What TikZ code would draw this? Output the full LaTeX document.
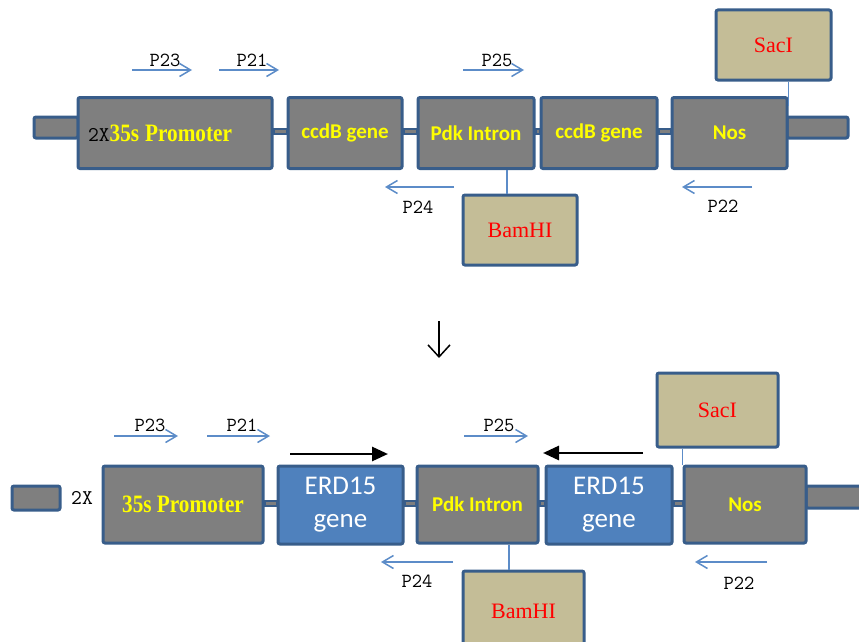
\documentclass[tikz,border=0pt]{standalone}
\usepackage{fontspec}
\setmainfont{Liberation Serif}
\newfontfamily\genefont{Carlito}
\usetikzlibrary{arrows.meta}
\definecolor{boxgray}{RGB}{127,127,127}
\definecolor{edgeblue}{RGB}{56,93,138}
\definecolor{sitetan}{RGB}{196,189,151}
\definecolor{erdblue}{RGB}{79,129,189}
\definecolor{primerblue}{RGB}{92,140,200}
\definecolor{geneyellow}{RGB}{255,255,0}
\newcommand{\narrow}[1]{\scalebox{0.85}[1]{#1}}

\begin{document}
\begin{tikzpicture}[
  x=1pt, y=-1pt,
  every node/.style={inner sep=0pt},
  part/.style={draw=edgeblue, line width=3pt, rounded corners=2pt, fill=boxgray,
    text=geneyellow, font=\genefont\bfseries\fontsize{21}{24}\selectfont},
  toprow/.style={part, minimum height=71pt},
  botrow/.style={part, minimum height=77pt},
  erd/.style={part, fill=erdblue, text=white, align=center, minimum height=78pt,
    font=\genefont\fontsize{27}{33}\selectfont},
  stub/.style={draw=edgeblue, line width=3pt, rounded corners=2pt, fill=boxgray},
  link/.style={draw=edgeblue, line width=2pt, fill=boxgray},
  site/.style={draw=edgeblue, line width=3pt, rounded corners=2pt, fill=sitetan,
    text=red, font=\fontsize{22}{26}\selectfont},
  cut/.style={draw=primerblue, line width=1.3pt},
  primer/.style={draw=primerblue, line width=1.5pt, -{Straight Barb[length=11pt,width=13pt]}},
  plabel/.style={font=\ttfamily\fontsize{20}{22}\selectfont},
  sense/.style={line width=2.8pt, -{Triangle[length=16pt,width=14pt]}}
]
  \useasboundingbox (0,0) rectangle (859,642);
  \clip (0,0) rectangle (859,642);

  \node[stub, minimum width=44pt, minimum height=21pt] (ls1) at (56,127.5) {};
  \node[stub, minimum width=61pt, minimum height=21pt] (rs1) at (817.5,127.5) {};
  \node[toprow, text width=174pt, inner xsep=10pt, align=left] (prom1) at (175,133)
    {\ttfamily\mdseries\fontsize{21}{22}\selectfont\color{black}2X\normalfont\narrow{\bfseries\color{geneyellow}\fontsize{25}{26}\selectfont 35s Promoter}};
  \node[toprow, minimum width=114pt] (ccdb1) at (345,133) {ccdB gene};
  \node[toprow, minimum width=116pt] (pdk1) at (476,133) {Pdk Intron};
  \node[toprow, minimum width=116pt] (ccdb2) at (599,133) {ccdB gene};
  \node[toprow, minimum width=115pt] (nos1) at (729.5,133) {Nos};
  \node[site, minimum width=115pt, minimum height=70pt] (saci1) at (773.5,45) {SacI};
  \node[site, minimum width=114pt, minimum height=70pt] (bam1) at (520,230) {BamHI};

  \draw[link] ([yshift=4.5pt]prom1.east) rectangle ([yshift=-0.5pt]ccdb1.west);
  \draw[link] ([yshift=4.5pt]ccdb1.east) rectangle ([yshift=-0.5pt]pdk1.west);
  \draw[link] ([yshift=4.5pt]pdk1.east) rectangle ([yshift=-0.5pt]ccdb2.west);
  \draw[link] ([yshift=4.5pt]ccdb2.east) rectangle ([yshift=-0.5pt]nos1.west);
  \draw[cut] (saci1.south -| nos1.east) -- ([yshift=-10pt]nos1.north east);
  \draw[cut] ([xshift=-13pt]bam1.north) -- ([xshift=-13pt]bam1.north |- pdk1.south);

  \node[plabel] (p23a) at (165,60) {P23};
  \node[plabel] (p21a) at (252,60) {P21};
  \node[plabel] (p25a) at (497,60) {P25};
  \node[plabel] (p24a) at (418,207) {P24};
  \node[plabel] (p22a) at (723,206) {P22};
  \coordinate (p23as) at (132,70);  \coordinate (p23ae) at (192,70);
  \coordinate (p21as) at (219,70);  \coordinate (p21ae) at (279,70);
  \coordinate (p25as) at (463,70);  \coordinate (p25ae) at (524,70);
  \coordinate (p24as) at (454,187); \coordinate (p24ae) at (385,187);
  \coordinate (p22as) at (752,187); \coordinate (p22ae) at (682,187);
  \draw[primer] (p23as) -- (p23ae);
  \draw[primer] (p21as) -- (p21ae);
  \draw[primer] (p25as) -- (p25ae);
  \draw[primer] (p24as) -- (p24ae);
  \draw[primer] (p22as) -- (p22ae);

  \coordinate (dtop) at (439,321);
  \coordinate (dbot) at (439,358);
  \draw[line width=1.5pt, -{Straight Barb[length=12pt,width=22pt]}] (dtop) -- (dbot);

  \node[stub, minimum width=48pt, minimum height=24pt] (ls2) at (36,498) {};
  \node[stub, minimum width=70pt, minimum height=22pt] (rs2) at (841,497) {};
  \node[plabel, font=\ttfamily\fontsize{21}{22}\selectfont] (twox) at (82,498) {2X};
  \node[botrow, minimum width=160pt] (prom2) at (183,504.5)
    {\narrow{\normalfont\bfseries\fontsize{25}{26}\selectfont 35s Promoter}};
  \node[erd, minimum width=125pt] (erd1) at (340.5,505) {ERD15\\gene};
  \node[botrow, minimum width=121pt] (pdk2) at (477.5,504.5) {Pdk Intron};
  \node[erd, minimum width=126pt] (erd2) at (609,505) {ERD15\\gene};
  \node[botrow, minimum width=122pt] (nos2) at (745,504.5) {Nos};
  \node[site, minimum width=121pt, minimum height=74pt] (saci2) at (717.5,410) {SacI};
  \node[site, minimum width=121pt, minimum height=80pt] (bam2) at (523.5,611) {BamHI};

  \draw[link] ([yshift=4pt]prom2.east) rectangle ([yshift=-1pt]erd1.west);
  \draw[link] ([yshift=4pt]erd1.east) rectangle ([yshift=-1pt]pdk2.west);
  \draw[link] ([yshift=4pt]pdk2.east) rectangle ([yshift=-1pt]erd2.west);
  \draw[link] ([yshift=4pt]erd2.east) rectangle ([yshift=-1pt]nos2.west);
  \draw[cut] (saci2.south -| nos2.west) -- (nos2.north west);
  \draw[cut] ([xshift=-14.5pt]bam2.north) -- ([xshift=-14.5pt]bam2.north |- pdk2.south);

  \node[plabel] (p23b) at (150,425) {P23};
  \node[plabel] (p21b) at (242,425) {P21};
  \node[plabel] (p25b) at (499,425) {P25};
  \node[plabel] (p24b) at (417,581) {P24};
  \node[plabel] (p22b) at (739,583) {P22};
  \coordinate (p23bs) at (114,436); \coordinate (p23be) at (178,436);
  \coordinate (p21bs) at (207,436); \coordinate (p21be) at (270,436);
  \coordinate (p25bs) at (464,436); \coordinate (p25be) at (528,436);
  \coordinate (p24bs) at (453,562); \coordinate (p24be) at (381,562);
  \coordinate (p22bs) at (767,562); \coordinate (p22be) at (695,562);
  \draw[primer] (p23bs) -- (p23be);
  \draw[primer] (p21bs) -- (p21be);
  \draw[primer] (p25bs) -- (p25be);
  \draw[primer] (p24bs) -- (p24be);
  \draw[primer] (p22bs) -- (p22be);

  \coordinate (fwds) at (290,454); \coordinate (fwde) at (388,454);
  \coordinate (revs) at (643,453); \coordinate (reve) at (543,453);
  \draw[sense] (fwds) -- (fwde);
  \draw[sense] (revs) -- (reve);
\end{tikzpicture}
\end{document}
